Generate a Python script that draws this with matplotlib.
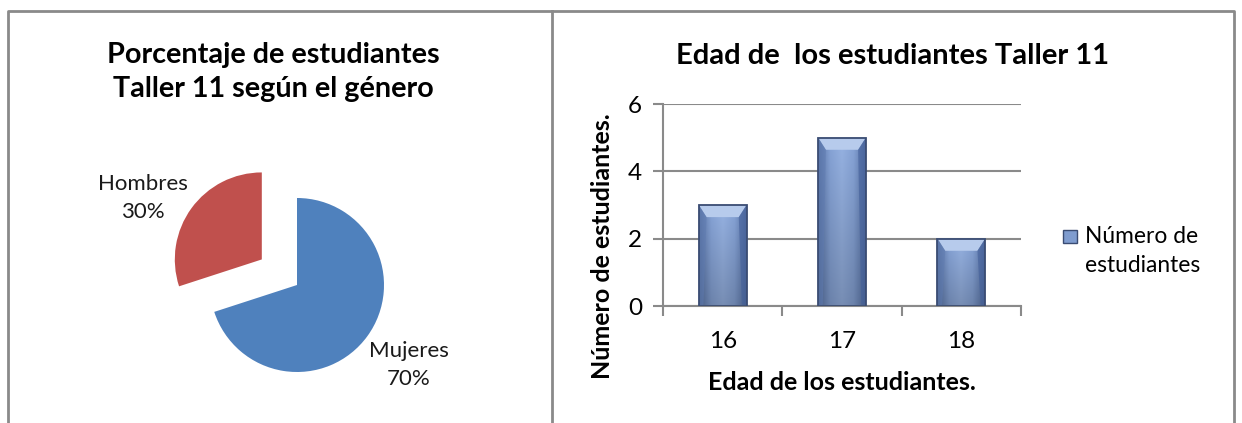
"""
Two-panel chart: gender split (pie) and age counts (bar) for Taller 11.
"""
import numpy as np
import matplotlib.pyplot as plt
from matplotlib.lines import Line2D
from matplotlib.patches import Polygon, Rectangle
from matplotlib.colors import LinearSegmentedColormap

plt.rcParams["font.family"] = ["Lato", "DejaVu Sans"]

# data
genders = ["Mujeres", "Hombres"]
gender_pct = [70, 30]
ages = ["16", "17", "18"]
age_counts = [3, 5, 2]
series_name = "Número de\nestudiantes"

W, H = 1242, 423
fig = plt.figure(figsize=(W / 100, H / 100), dpi=100)


def fx(px):
    return px / W


def fy(py):
    return 1 - py / H


# panel borders (bottom edge is cropped in the original)
border = dict(color="#8a8a8a", lw=2, transform=fig.transFigure)
fig.add_artist(Line2D([fx(8), fx(8), fx(1234), fx(1234)], [0, fy(11), fy(11), 0], **border))
fig.add_artist(Line2D([fx(552), fx(552)], [0, fy(11)], **border))

# ---- pie ----
R = 87.0
cx, cy = 297, 285
aw, ah = 394, 270
ax1 = fig.add_axes([fx(cx - aw / 2), fy(cy + ah / 2), aw / W, ah / H])
wedges, texts = ax1.pie(
    gender_pct,
    labels=[f"{g}\n{p}%" for g, p in zip(genders, gender_pct)],
    colors=["#4f81bd", "#c0504d"],
    startangle=90,
    counterclock=False,
    explode=[0, 0.5],
    radius=1,
    textprops=dict(fontsize=16, color="#1a1a1a", linespacing=1.45),
)
ax1.set_xlim(-aw / 2 / R, aw / 2 / R)
ax1.set_ylim(-ah / 2 / R, ah / 2 / R)
ax1.set_aspect("auto")
texts[0].set_position(((409 - cx) / R, (cy - 365) / R))
texts[1].set_position(((143 - cx) / R, (cy - 198) / R))
for t in texts:
    t.set_ha("center")
    t.set_va("center")

fig.text(fx(273), fy(72), "Porcentaje de estudiantes\nTaller 11 según el género",
         ha="center", va="center", fontsize=20.7, fontweight="bold", linespacing=1.4)

# ---- bars ----
left, right, top, bottom = 663, 1021, 104, 306
ax2 = fig.add_axes([fx(left), fy(bottom), (right - left) / W, (bottom - top) / H])
x = np.arange(len(ages))
bw = 0.4
ax2.yaxis.grid(True, color="#8a8a8a", lw=1.5)
ax2.set_axisbelow(True)
for s in ["top", "right"]:
    ax2.spines[s].set_visible(False)
for s in ["left", "bottom"]:
    ax2.spines[s].set_color("#8a8a8a")
    ax2.spines[s].set_linewidth(1.5)

body = LinearSegmentedColormap.from_list("body", ["#5873a6", "#86a3d6", "#96b2e2", "#86a3d6", "#5873a6"])
grad = np.tile(np.linspace(0, 1, 64), (32, 1))
shade = np.linspace(1.0, 0.8, 32)[:, None, None]
rgb = body(grad)[..., :3] * shade
bars = ax2.bar(x, age_counts, width=bw, color="none", edgecolor="#3a4c73", lw=1.3, zorder=3)
for b, v in zip(bars, age_counts):
    x0, x1 = b.get_x(), b.get_x() + b.get_width()
    im = ax2.imshow(rgb, extent=[x0, x1, 0, v], aspect="auto", zorder=2, interpolation="bilinear")
    im.set_clip_path(Rectangle((x0, 0), x1 - x0, v, transform=ax2.transData))
    e, dy = 0.065, 0.36
    ax2.add_patch(Polygon([[x0, v], [x1, v], [x1 - e, v - dy], [x0 + e, v - dy]],
                          closed=True, color="#b7cbec", lw=0, zorder=2.5))
    ax2.add_patch(Polygon([[x0, v], [x0 + e, v - dy], [x0 + e * 0.6, 0.04], [x0, 0]],
                          closed=True, color="#5f7bb0", lw=0, zorder=2.5, alpha=0.55))
    ax2.add_patch(Polygon([[x1, v], [x1 - e, v - dy], [x1 - e * 0.6, 0.04], [x1, 0]],
                          closed=True, color="#44609a", lw=0, zorder=2.5, alpha=0.6))

ax2.set_xlim(-0.5, len(ages) - 0.5)
ax2.set_ylim(0, 6)
ax2.set_yticks([0, 2, 4, 6])
ax2.set_xticks(x)
ax2.set_xticklabels(ages)
ax2.set_xticks(np.arange(len(ages) + 1) - 0.5, minor=True)
ax2.tick_params(axis="x", which="major", length=0, labelsize=17.5, pad=18)
ax2.tick_params(axis="x", which="minor", length=7, width=1.5, color="#8a8a8a", direction="out")
ax2.tick_params(axis="y", length=7, width=1.5, color="#8a8a8a", labelsize=17.5, pad=8)

ax2.set_xlabel("Edad de los estudiantes.", fontsize=18, fontweight="bold")
ax2.set_ylabel("Número de estudiantes.", fontsize=18, fontweight="bold")
ax2.xaxis.set_label_coords((842 - left) / (right - left), (bottom - 382) / (bottom - top))
ax2.yaxis.set_label_coords((603 - left) / (right - left), (bottom - 246) / (bottom - top))
ax2.xaxis.label.set_va("center")
ax2.yaxis.label.set_va("center")

fig.text(fx(893), fy(56), "Edad de  los estudiantes Taller 11",
         ha="center", va="center", fontsize=21, fontweight="bold")

# legend
fig.add_artist(Rectangle((fx(1063), fy(243)), 14 / W, 13 / H, transform=fig.transFigure,
                         facecolor="#7f9ccf", edgecolor="#3a4c73", lw=1))
fig.text(fx(1085), fy(251), series_name, ha="left", va="center", fontsize=16.4, linespacing=1.5)

fig.savefig("out.png", dpi=100)
